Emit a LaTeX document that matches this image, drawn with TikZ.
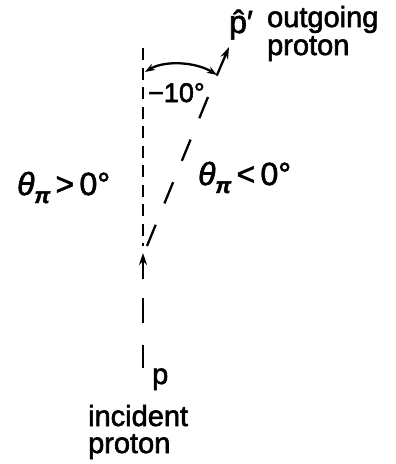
\documentclass[tikz,border=0pt]{standalone}
\usepackage{fontspec}
\setmainfont[FakeBold=2]{Liberation Sans}
\usetikzlibrary{arrows.meta}
\begin{document}
\begin{tikzpicture}[x=1pt,y=-1pt,line width=2.3pt,
  lbl/.style={inner sep=0pt,anchor=base west,font=\fontsize{29}{34}\selectfont},
  biglbl/.style={inner sep=0pt,anchor=base west,font=\fontsize{32}{36}\selectfont},
  smalllbl/.style={inner sep=0pt,anchor=base west,font=\fontsize{27}{32}\selectfont},
  tip/.style={-{Stealth[length=12pt,width=8pt]}},
  twotip/.style={{Stealth[length=10pt,width=7pt]}-{Stealth[length=10pt,width=7pt]}},
  shortdash/.style={dash pattern=on 12pt off 7.5pt},
  longdash/.style={dash pattern=on 23pt off 23pt}]
\useasboundingbox (0,0) rectangle (396,464);
% key points
\coordinate (vtop) at (143,48);
\coordinate (vbot) at (143,246);
\coordinate (vtx) at (147,246);
\coordinate (bend) at (217,75);
\coordinate (phead) at (229,47);
\coordinate (arcL) at (145,72);
\coordinate (inA) at (143,368);
\coordinate (inB) at (143,345);
\coordinate (inC) at (143,323);
\coordinate (inD) at (143,298);
\coordinate (inE) at (143,279);
\coordinate (inF) at (143,253);
% incident direction (dashed vertical)
\draw[shortdash] (vtop) -- (vbot);
% outgoing direction
\draw[longdash] (vtx) -- (bend);
\draw[tip] (bend) -- (phead);
% angle arc
\draw[twotip] (bend) .. controls (196,62) and (165,60) .. (arcL);
% incoming proton
\draw (inA) -- (inB);
\draw (inC) -- (inD);
\draw[tip] (inE) -- (inF);
% labels
\node[biglbl] (pp) at (228,33) {\^{p}′};
\node[lbl] (out1) at (266,27) {outgoing};
\node[lbl] (out2) at (266,55) {proton};
\node[smalllbl] (ang) at (147,102) {−10°};
\node[biglbl] (left) at (16,195) {\textit{θ}\raisebox{-0.25em}{\fontsize{22}{22}\selectfont\bfseries\itshape π}\,>\,0°};
\node[biglbl] (right) at (197,185) {\textit{θ}\raisebox{-0.25em}{\fontsize{22}{22}\selectfont\bfseries\itshape π}\,<\,0°};
\node[lbl] (p) at (151,384) {p};
\node[lbl] (in1) at (87,426) {incident};
\node[lbl] (in2) at (87,453) {proton};
\end{tikzpicture}
\end{document}
